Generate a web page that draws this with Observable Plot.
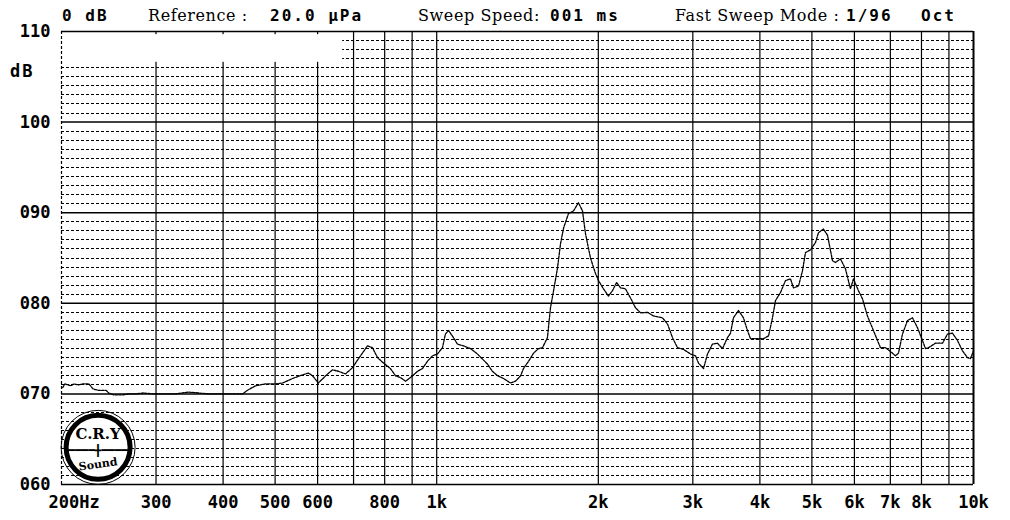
<!DOCTYPE html>
<html>
<head>
<meta charset="utf-8">
<script src="https://cdn.jsdelivr.net/npm/d3@7"></script>
<script src="https://cdn.jsdelivr.net/npm/@observablehq/plot@0.6"></script>
<style>
  body { margin: 0; background: #fff; }
  #wrap { position: relative; width: 1010px; height: 520px; overflow: hidden; background: #fff; }
  #wrap svg { position: absolute; left: 0; top: 0; }
  .hd { position: absolute; top: 8px; line-height: 1; white-space: pre; color: #000; }
  .mono { font-family: "DejaVu Sans Mono", monospace; font-weight: bold; font-size: 16px; letter-spacing: 2px; }
  .serif { font-family: "DejaVu Serif", serif; font-size: 16px; letter-spacing: 0.6px; top: 8px; }
  g[aria-label="ticklabel"] text { letter-spacing: 2px; }
</style>
</head>
<body>
<div id="wrap">
  <span class="hd mono" style="left:62px">0 dB</span>
  <span class="hd serif" style="left:148px">Reference :</span>
  <span class="hd mono" style="left:270px">20.0 µPa</span>
  <span class="hd serif" style="left:418px">Sweep Speed:</span>
  <span class="hd mono" style="left:550px">001 ms</span>
  <span class="hd serif" style="left:675px">Fast Sweep Mode :</span>
  <span class="hd mono" style="left:846px">1/96</span>
  <span class="hd mono" style="left:921px">Oct</span>
  <span class="hd mono" style="left:10px;top:63px;font-size:17px;letter-spacing:2px">dB</span>
</div>
<script>
// Measured curve (frequency in Hz, level in dB)
const curveHz = [
  201,203,208,211,215,219,225,229,234,242,
  245,250,260,267,275,284,296,312,326,345,
  360,376,392,410,435,444,460,480,501,516,
  539,562,577,587,602,621,639,656,676,697,
  706,721,743,759,776,796,820,838,856,875,
  902,921,941,961,982,1003,1025,1038,1052,1075,
  1093,1122,1156,1191,1243,1270,1298,1332,1372,1402,
  1433,1451,1483,1515,1548,1574,1608,1629,1651,1679,
  1701,1723,1760,1798,1837,1869,1893,1934,1976,2002,
  2045,2089,2126,2163,2200,2247,2296,2346,2397,2470,
  2534,2634,2692,2750,2809,2883,2971,3035,3074,3141,
  3195,3264,3334,3407,3480,3526,3571,3649,3728,3792,
  3842,3959,4063,4151,4222,4277,4370,4464,4561,4620,
  4720,4802,4864,4970,5077,5143,5255,5346,5462,5533,
  5651,5774,5899,5975,6104,6211,6345,6510,6709,6855,
  7063,7155,7248,7373,7534,7697,7864,8034,8138,8244,
  8495,8755,8944,9138,9336,9538,9744,9871,10000
];
const curveDb = [
  70.7,71.1,70.9,71.1,71.0,71.1,71.1,70.55,70.4,70.4,
  70.1,69.9,69.9,70.0,70.0,70.1,70.0,70.0,70.0,70.2,
  70.1,70.0,70.0,70.0,70.0,70.4,70.9,71.1,71.1,71.2,
  71.7,72.1,72.3,72.0,71.2,72.0,72.65,72.5,72.2,72.9,
  73.4,74.2,75.3,75.1,74.0,73.4,72.8,72.0,71.8,71.4,
  72.0,72.5,72.8,73.6,74.2,74.4,75.1,76.6,77.0,76.2,
  75.5,75.3,75.0,74.4,73.3,72.5,72.0,71.7,71.2,71.4,
  72.0,72.8,73.6,74.5,75.0,75.1,76.2,79.5,81.4,83.9,
  86.6,88.3,89.9,90.2,91.1,90.2,87.7,85.0,83.3,82.5,
  81.6,80.8,81.4,82.3,81.7,81.6,80.6,79.5,78.95,79.0,
  78.6,78.4,77.7,76.2,75.1,74.9,74.4,74.2,73.4,72.8,
  74.4,75.5,75.6,75.0,76.2,76.7,78.4,79.2,78.4,77.0,
  76.1,76.1,76.1,76.4,78.4,80.3,81.2,82.5,82.7,81.7,
  81.9,83.6,85.6,85.9,86.7,87.8,88.2,87.5,84.7,84.5,
  84.9,83.8,81.6,82.7,81.4,80.5,78.6,77.0,75.1,75.1,
  74.5,74.2,74.5,76.6,78.1,78.4,77.3,75.9,75.0,75.1,
  75.6,75.6,76.6,76.7,75.9,74.75,74.0,73.9,74.75
];

// Axis / grid definitions
const majorDb = [60, 70, 80, 90, 100, 110];
const minorDb = d3.range(61, 110).filter(d => d % 10 !== 0);
const gridHz = [300, 400, 500, 600, 700, 800, 900, 1000, 2000, 3000, 4000, 5000, 6000, 7000, 8000, 9000];
const tickHz = [300, 400, 500, 600, 800, 1000, 2000, 3000, 4000, 5000, 6000, 7000, 8000, 10000];
const tickLabels = ["300", "400", "500", "600", "800", "1k", "2k", "3k", "4k", "5k", "6k", "7k", "8k", "10k"];
const firstTick = [{hz: 200, label: "200Hz"}];
const blankBox = [{f1: 200, f2: 668, db1: 106.6, db2: 109.65}];
const logo = [{hz: 234, db: 64.1}];

const curve = curveHz.map((hz, i) => ({hz, db: curveDb[i]}));

const tickFont = {fontFamily: "DejaVu Sans Mono", fontWeight: "bold", fontSize: 17, fill: "black"};

const chart = Plot.plot({
  width: 1010,
  height: 520,
  marginLeft: 61,
  marginRight: 37,
  marginTop: 31,
  marginBottom: 36,
  x: {type: "log", domain: [200, 10000], axis: null},
  y: {domain: [60, 110], axis: null},
  style: {background: "white", color: "black", overflow: "visible"},
  marks: [
    Plot.ruleY(minorDb, {stroke: "black", strokeWidth: 1, strokeDasharray: "3,2", shapeRendering: "crispEdges"}),
    Plot.ruleX(gridHz, {stroke: "black", strokeWidth: 1.2}),
    Plot.ruleY(majorDb, {stroke: "black", strokeWidth: 1.5}),
    Plot.rect(blankBox, {x1: "f1", x2: "f2", y1: "db1", y2: "db2", fill: "white"}),
    Plot.ruleX([200], {stroke: "black", strokeWidth: 1.2, strokeDasharray: "3,2"}),
    Plot.ruleX([10000], {stroke: "black", strokeWidth: 2}),
    // logo
    Plot.dot(logo, {x: "hz", y: "db", r: 37, fill: "none", stroke: "black", strokeWidth: 1}),
    Plot.dot(logo, {x: "hz", y: "db", r: 32, fill: "white", stroke: "black", strokeWidth: 5}),
    Plot.text(logo, {x: "hz", y: "db", text: () => "C.R.Y", dy: -13, fontFamily: "DejaVu Serif", fontWeight: "bold", fontSize: 15, fill: "black"}),
    Plot.text(logo, {x: "hz", y: "db", text: () => "━━━━╋━━━━", dy: 3, fontFamily: "DejaVu Sans Mono", fontWeight: "bold", fontSize: 11, fill: "black"}),
    Plot.text(logo, {x: "hz", y: "db", text: () => "Sound", dy: 17, rotate: -8, fontFamily: "DejaVu Serif", fontWeight: "bold", fontSize: 11, fill: "black"}),
    // curve
    Plot.line(curve, {x: "hz", y: "db", stroke: "black", strokeWidth: 1.3, strokeDasharray: "2.5,1.2", curve: "linear"}),
    // tick labels
    Plot.text(majorDb, {y: d => d, frameAnchor: "left", dx: -11, textAnchor: "end", text: d => d3.format("03d")(d), ariaLabel: "ticklabel", ...tickFont}),
    Plot.text(tickHz, {x: d => d, frameAnchor: "bottom", dy: 23, text: (d, i) => tickLabels[i], ariaLabel: "ticklabel", ...tickFont}),
    Plot.text(firstTick, {x: "hz", frameAnchor: "bottom", dy: 23, dx: -13, textAnchor: "start", text: "label", ariaLabel: "ticklabel", ...tickFont})
  ]
});

document.getElementById("wrap").prepend(chart);
</script>
</body>
</html>
